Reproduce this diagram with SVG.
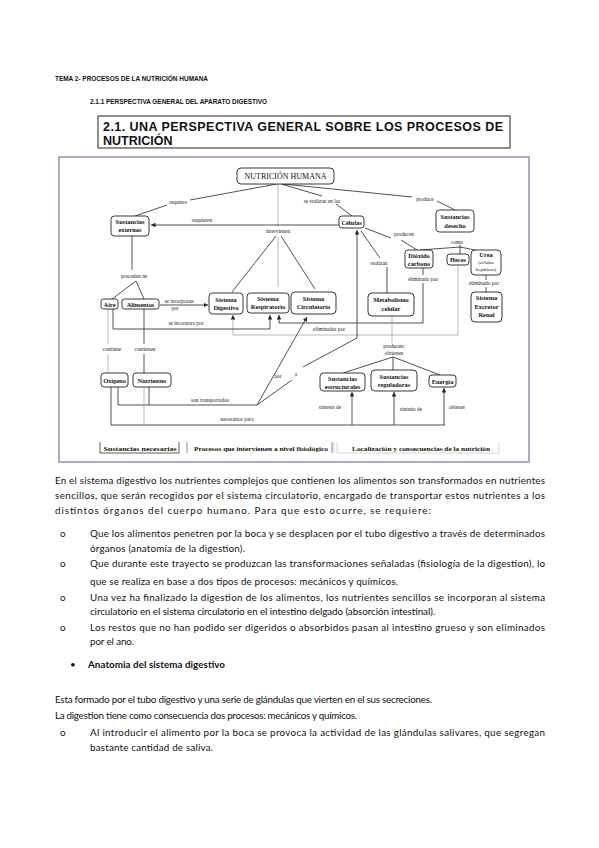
<svg xmlns="http://www.w3.org/2000/svg" width="599" height="848" viewBox="0 0 599 848">
<style>
.hd{font-family:"Liberation Sans",Arial,sans-serif;font-weight:bold;font-size:8px;fill:#111}
.tt{font-family:"Liberation Sans",Arial,sans-serif;font-weight:bold;font-size:12.5px;fill:#111}
.bd{font-family:Lato,"Noto Sans",sans-serif;font-size:9.8px;fill:#111}
.bb{font-family:Lato,"Noto Sans",sans-serif;font-size:9.8px;font-weight:bold;fill:#111}
.nd{fill:#fff;stroke:#222;stroke-width:0.9}
.nt{font-family:"Liberation Serif","Times New Roman",serif;font-size:6.4px;font-weight:bold;fill:#111;text-anchor:middle}
.ns{font-family:"Liberation Serif","Times New Roman",serif;font-size:5px;fill:#111;text-anchor:middle}
.el{font-family:"Liberation Serif","Times New Roman",serif;font-size:5.4px;fill:#222;text-anchor:middle}
.ln{fill:none;stroke:#333;stroke-width:0.85}
.lg{fill:none;stroke:#aaa;stroke-width:0.85}
.lgd{font-family:"Liberation Serif","Times New Roman",serif;font-size:6.6px;font-weight:bold;fill:#111;text-anchor:middle}
</style>
<defs>
<marker id="ah" viewBox="0 0 10 10" refX="10" refY="5" markerUnits="userSpaceOnUse" markerWidth="4.5" markerHeight="4.5" orient="auto">
<path d="M0,0 L10,5 L0,10 z" fill="#222"/>
</marker>
</defs>
<rect width="599" height="848" fill="#fff"/>

<!-- headers -->
<text class="hd" x="55" y="81" textLength="153" lengthAdjust="spacingAndGlyphs">TEMA 2- PROCESOS DE LA NUTRICIÓN HUMANA</text>
<text class="hd" x="90" y="104" textLength="177" lengthAdjust="spacingAndGlyphs">2.1.1 PERSPECTIVA GENERAL DEL APARATO DIGESTIVO</text>
<g id="title">
<rect x="98" y="116" width="412" height="32" fill="#fff" stroke="#222" stroke-width="1"/>
<text class="tt" x="103" y="131" textLength="400" lengthAdjust="spacing">2.1. UNA PERSPECTIVA GENERAL SOBRE LOS PROCESOS DE</text>
<text class="tt" x="103" y="145">NUTRICIÓN</text>
</g>

<!-- diagram frame -->
<rect x="59" y="157" width="470" height="305" fill="#fff" stroke="#a7aec2" stroke-width="2"/>

<!-- connectors -->
<g id="connectors">
<path class="ln" d="M277,184 L190,200 M167,205 L135,216"/>
<path class="ln" d="M281,184 L322,196 M336,204 L352,216"/>
<path class="ln" d="M283,184 L412,197 M437,201 L455,210"/>
<path class="lg" d="M278,184 L278,226"/>
<path class="ln" d="M276,236 L232,292 M281,236 L315,289"/>
<path class="lg" d="M278,237 L278,287"/>
<path class="ln" d="M339,225 L151,225" marker-end="url(#ah)"/>
<path class="ln" d="M365,228 L391,238 M401,240 L417,250"/>
<path class="ln" d="M361,231 L380,258 M387,267 L387,293"/>
<path class="ln" d="M460,245 L460,248 M420,250 L460,247 L480,251 M460,247 L460,254"/>
<path class="ln" d="M423,268 L423,275"/>
<path class="ln" d="M423,283 L423,323 L279,323 L279,315" marker-end="url(#ah)"/>
<path class="lg" d="M458,265 L458,335 L233,335 L233,315" marker-end="url(#ah)"/>
<path class="ln" d="M486,275 L486,280 M486,287 L486,292"/>
<path class="ln" d="M132,236 L132,270 M136,281 L112,299 M136,281 L144,299"/>
<path class="ln" d="M160,305 L208,305" marker-end="url(#ah)"/>
<path class="ln" d="M113,309 L113,329 L270,329 L270,315" marker-end="url(#ah)"/>
<path class="lg" d="M108,309 L108,344 M108,354 L108,373"/>
<path class="ln" d="M144,309 L144,344 M144,354 L144,373"/>
<path class="ln" d="M118,387 L118,405 L257,405 M149,387 L149,405"/>
<path class="ln" d="M257,405 L307,317" marker-end="url(#ah)"/>
<path class="ln" d="M257,405 L292,380 M303,367 L357,338"/>
<path class="ln" d="M357,338 L357,230" marker-end="url(#ah)"/>
<path class="lg" d="M144,387 L144,425"/>
<path class="ln" d="M111,387 L111,425 L445,425"/>
<path class="ln" d="M352,425 L352,392" marker-end="url(#ah)"/>
<path class="ln" d="M394,425 L394,392" marker-end="url(#ah)"/>
<path class="ln" d="M444,425 L444,388" marker-end="url(#ah)"/>
<path class="lg" d="M392,316 L392,343"/>
<path class="ln" d="M393,357 L343,373 M393,357 L393,370 M393,357 L440,375"/>
</g>

<!-- connector labels -->
<g id="labels">
<text class="el" x="178" y="204">requiere</text>
<text class="el" x="322" y="203">se realizan en las</text>
<text class="el" x="425" y="201">produce</text>
<text class="el" x="202" y="222">requieren</text>
<text class="el" x="278" y="233">intervienen</text>
<text class="el" x="404" y="236">producen</text>
<text class="el" x="457" y="244">como</text>
<text class="el" x="379" y="265">realizan</text>
<text class="el" x="423" y="281">eliminado por</text>
<text class="el" x="484" y="285">eliminado por</text>
<text class="el" x="134" y="278">proceden de</text>
<text class="el" x="179" y="303">se incorporan</text>
<text class="el" x="175" y="310">por</text>
<text class="el" x="186" y="325">se incorpora por</text>
<text class="el" x="329" y="331">eliminadas por</text>
<text class="el" x="112" y="351">contiene</text>
<text class="el" x="145" y="351">contienen</text>
<text class="el" x="394" y="348">producen/</text>
<text class="el" x="394" y="355">obtienen</text>
<text class="el" x="278" y="378">por</text>
<text class="el" x="296" y="376">a</text>
<text class="el" x="210" y="402">son transportados</text>
<text class="el" x="237" y="421">necesarios para</text>
<text class="el" x="330" y="409">síntesis de</text>
<text class="el" x="411" y="411">síntesis de</text>
<text class="el" x="457" y="409">obtener</text>
</g>

<!-- nodes -->
<g id="n-nutricion">
<rect class="nd" x="237" y="168" width="97" height="16" rx="4"/>
<text x="285.5" y="179" style="font-family:'Liberation Serif','Times New Roman',serif;font-size:8px;fill:#111;text-anchor:middle">NUTRICIÓN HUMANA</text>
</g>
<g id="n-sust-externas">
<rect class="nd" x="111" y="216" width="38" height="20" rx="3.5"/>
<text class="nt" x="130" y="224">Sustancias</text><text class="nt" x="130" y="232">externas</text>
</g>
<g id="n-celulas">
<rect class="nd" x="339" y="216" width="25" height="12" rx="3"/>
<text class="nt" x="351.5" y="224.5">Células</text>
</g>
<g id="n-sust-desecho">
<rect class="nd" x="436" y="210" width="38" height="22" rx="3.5"/>
<text class="nt" x="455" y="219">Sustancias</text><text class="nt" x="455" y="228">desecho</text>
</g>
<g id="n-dioxido">
<rect class="nd" x="405" y="250" width="28" height="18" rx="3"/>
<text class="nt" x="419" y="257.5">Dióxido</text><text class="nt" x="419" y="265.5">carbono</text>
</g>
<g id="n-heces">
<rect class="nd" x="447" y="254" width="22" height="11" rx="3"/>
<text class="nt" x="458" y="262">Heces</text>
</g>
<g id="n-urea">
<rect class="nd" x="471" y="250" width="30" height="25" rx="4"/>
<text class="nt" x="486" y="257">Urea</text><text class="ns" x="486" y="264">(células</text><text class="ns" x="486" y="270.5">hepáticas)</text>
</g>
<g id="n-excretor">
<rect class="nd" x="471" y="292" width="31" height="30" rx="4"/>
<text class="nt" x="486.5" y="300">Sistema</text><text class="nt" x="486.5" y="308.5">Excretor</text><text class="nt" x="486.5" y="317">Renal</text>
</g>
<g id="n-aire">
<rect class="nd" x="101" y="299" width="17" height="10" rx="2.5"/>
<text class="nt" x="109.5" y="306.5">Aire</text>
</g>
<g id="n-alimentos">
<rect class="nd" x="122" y="299" width="37" height="10" rx="2.5"/>
<text class="nt" x="140.5" y="306.5">Alimentos</text>
</g>
<g id="n-digestivo">
<rect class="nd" x="209" y="293" width="34" height="21" rx="3.5"/>
<text class="nt" x="226" y="301.5">Sistema</text><text class="nt" x="226" y="310">Digestivo</text>
</g>
<g id="n-respiratorio">
<rect class="nd" x="247" y="293" width="42" height="20" rx="3.5"/>
<text class="nt" x="268" y="300.5">Sistema</text><text class="nt" x="268" y="309">Respiratorio</text>
</g>
<g id="n-circulatorio">
<rect class="nd" x="291" y="292" width="45" height="22" rx="4"/>
<text class="nt" x="313.5" y="300.5">Sistema</text><text class="nt" x="313.5" y="309">Circulatorio</text>
</g>
<g id="n-metabolismo">
<rect class="nd" x="368" y="293" width="46" height="23" rx="4"/>
<text class="nt" x="391" y="302">Metabolismo</text><text class="nt" x="391" y="311">celular</text>
</g>
<g id="n-oxigeno">
<rect class="nd" x="101" y="373" width="27" height="14" rx="3"/>
<text class="nt" x="114.5" y="382.5">Oxígeno</text>
</g>
<g id="n-nutrientes">
<rect class="nd" x="133" y="373" width="38" height="14" rx="3"/>
<text class="nt" x="152" y="382.5">Nutrientes</text>
</g>
<g id="n-estructurales">
<rect class="nd" x="320" y="373" width="45" height="18" rx="3.5"/>
<text class="nt" x="342.5" y="380.5">Sustancias</text><text class="nt" x="342.5" y="388.5">estructurales</text>
</g>
<g id="n-reguladoras">
<rect class="nd" x="371" y="370" width="46" height="21" rx="4"/>
<text class="nt" x="394" y="378.5">Sustancias</text><text class="nt" x="394" y="387">reguladoras</text>
</g>
<g id="n-energia">
<rect class="nd" x="429" y="375" width="27" height="12" rx="3"/>
<text class="nt" x="442.5" y="383.5">Energía</text>
</g>

<!-- legend -->
<g id="legend">
<path d="M100,442 L100,453 L179,453 L179,442" fill="none" stroke="#333" stroke-width="0.8"/>
<text class="lgd" x="140" y="450.5" textLength="73" lengthAdjust="spacingAndGlyphs">Sustancias necesarias</text>
<path d="M187,442 L187,453 M332,442 L332,453" fill="none" stroke="#666" stroke-width="0.8"/>
<path d="M334,442 L334,453" fill="none" stroke="#ccc" stroke-width="0.8"/>
<text class="lgd" x="261" y="450.5" textLength="134" lengthAdjust="spacingAndGlyphs">Procesos que intervienen a nivel fisiológico</text>
<path d="M337,442 L337,453 L499,453 L499,442" fill="none" stroke="#ccc" stroke-width="0.8"/>
<text class="lgd" x="421" y="450.5" textLength="138" lengthAdjust="spacingAndGlyphs">Localización y consecuencias de la nutrición</text>
</g>

<!-- body text -->
<g id="body">
<text class="bd" x="55" y="484" textLength="490" lengthAdjust="spacing">En el sistema digestivo los nutrientes complejos que contienen los alimentos son transformados en nutrientes</text>
<text class="bd" x="55" y="499" textLength="490" lengthAdjust="spacing">sencillos, que serán recogidos por el sistema circulatorio, encargado de transportar estos nutrientes a los</text>
<text class="bd" x="55" y="514" textLength="376" lengthAdjust="spacing">distintos órganos del cuerpo humano. Para que esto ocurre, se requiere:</text>
<text class="bd" x="60" y="537">o</text>
<text class="bd" x="90" y="537" textLength="455" lengthAdjust="spacing">Que los alimentos penetren por la boca y se desplacen por el tubo digestivo a través de determinados</text>
<text class="bd" x="90" y="552" textLength="155" lengthAdjust="spacing">órganos (anatomía de la digestion).</text>
<text class="bd" x="60" y="567">o</text>
<text class="bd" x="90" y="567" textLength="455" lengthAdjust="spacing">Que durante este trayecto se produzcan las transformaciones señaladas (fisiología de la digestion), lo</text>
<text class="bd" x="90" y="585" textLength="308" lengthAdjust="spacing">que se realiza en base a dos tipos de procesos: mecánicos y químicos.</text>
<text class="bd" x="60" y="601">o</text>
<text class="bd" x="90" y="601" textLength="455" lengthAdjust="spacing">Una vez ha finalizado la digestion de los alimentos, los nutrientes sencillos se incorporan al sistema</text>
<text class="bd" x="90" y="615" textLength="345" lengthAdjust="spacing">circulatorio en el sistema circulatorio en el intestino delgado (absorción intestinal).</text>
<text class="bd" x="60" y="631">o</text>
<text class="bd" x="90" y="631" textLength="455" lengthAdjust="spacing">Los restos que no han podido ser digeridos o absorbidos pasan al intestino grueso y son eliminados</text>
<text class="bd" x="90" y="645" textLength="44" lengthAdjust="spacing">por el ano.</text>
<text class="bd" x="70" y="668">•</text>
<text class="bb" x="88" y="668" textLength="137" lengthAdjust="spacing">Anatomia del sistema digestivo</text>
<text class="bd" x="55" y="703" textLength="377" lengthAdjust="spacing">Esta formado por el tubo digestivo y una serie de glándulas que vierten en el sus secreciones.</text>
<text class="bd" x="55" y="719" textLength="302" lengthAdjust="spacing">La digestion tiene como consecuencia dos procesos: mecánicos y químicos.</text>
<text class="bd" x="60" y="736">o</text>
<text class="bd" x="90" y="736" textLength="455" lengthAdjust="spacing">Al introducir el alimento por la boca se provoca la actividad de las glándulas salivares, que segregan</text>
<text class="bd" x="90" y="751" textLength="123" lengthAdjust="spacing">bastante cantidad de saliva.</text>
</g>
</svg>
